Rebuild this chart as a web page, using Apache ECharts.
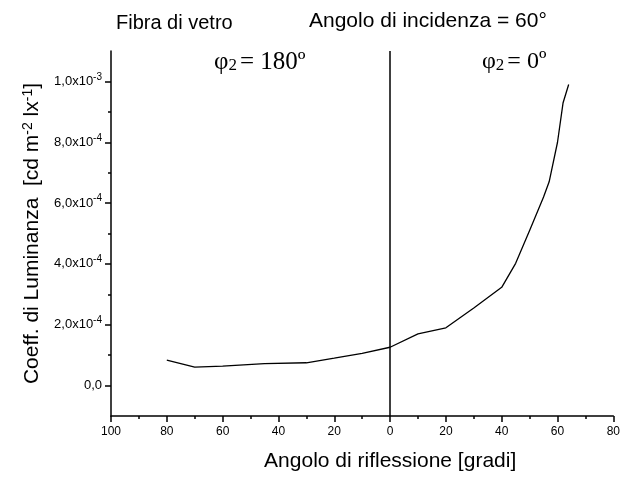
<!DOCTYPE html>
<html>
<head>
<meta charset="utf-8">
<script src="https://cdn.jsdelivr.net/npm/echarts@6/dist/echarts.min.js"></script>
<style>
  html, body { margin: 0; padding: 0; background: #fff; }
  #chart { width: 623px; height: 477px; }
</style>
</head>
<body>
<div id="chart"></div>
<script>
// angolo di riflessione (negativo = lato phi2 = 180)
const angles = [-80, -70, -60, -45, -30, -20, -10, 0, 10, 20, 30, 40, 45, 50, 55, 57, 60, 62, 64];
// coefficiente di luminanza
const luminance = [8.4e-5, 6.1e-5, 6.4e-5, 7.2e-5, 7.5e-5, 9.0e-5, 1.06e-4, 1.26e-4, 1.70e-4, 1.90e-4,
  2.55e-4, 3.23e-4, 4.02e-4, 5.1e-4, 6.2e-4, 6.7e-4, 8.0e-4, 9.3e-4, 9.9e-4];
const yMajor = [0, 2e-4, 4e-4, 6e-4, 8e-4, 1e-3];
const yMinor = [1e-4, 3e-4, 5e-4, 7e-4, 9e-4];
const yTickLabels = [["0,0", ""], ["2,0x10", "-4"], ["4,0x10", "-4"], ["6,0x10", "-4"], ["8,0x10", "-4"], ["1,0x10", "-3"]];

const chart = echarts.init(document.getElementById("chart"));
const sans = "Liberation Sans";
const serif = "Liberation Serif";

const option = {
  animation: false,
  backgroundColor: "#fff",
  grid: { left: 111, right: 9, top: 51, bottom: 58 },
  graphic: [
    { type: "text", left: 116, top: 13, style: { text: "Fibra di vetro", font: "20px " + sans, fill: "#000" } },
    { type: "text", left: 309, top: 11, style: { text: "Angolo di incidenza = 60°", font: "21px " + sans, fill: "#000" } },
    {
      type: "text", left: 214, top: 50,
      style: {
        text: "{a|φ}{b|2}{a|= 180º}",
        rich: {
          a: { fontFamily: serif, fontSize: 25, fill: "#000" },
          b: { fontFamily: serif, fontSize: 17, fill: "#000", padding: [7, 3, 0, 0] }
        }
      }
    },
    {
      type: "text", left: 482, top: 50,
      style: {
        text: "{a|φ}{b|2}{a|= 0º}",
        rich: {
          a: { fontFamily: serif, fontSize: 24, fill: "#000" },
          b: { fontFamily: serif, fontSize: 17, fill: "#000", padding: [7, 3, 0, 0] }
        }
      }
    }
  ],
  xAxis: {
    type: "value",
    min: -100,
    max: 80,
    interval: 20,
    name: "Angolo di riflessione [gradi]",
    nameLocation: "middle",
    nameGap: 35,
    nameTextStyle: { fontFamily: sans, fontSize: 21, color: "#000", padding: [0, 0, 0, 56] },
    axisLine: { onZero: false, lineStyle: { color: "#000", width: 1.5 } },
    axisTick: { inside: false, length: 6, lineStyle: { color: "#000", width: 1.5 } },
    minorTick: { show: true, splitNumber: 2, length: 3, lineStyle: { color: "#000", width: 1.5 } },
    axisLabel: {
      margin: 10,
      fontFamily: sans,
      fontSize: 12,
      color: "#000",
      formatter: (v) => String(Math.abs(v))
    },
    splitLine: { show: false }
  },
  yAxis: [
    {
      type: "value",
      min: -1e-4,
      max: 1.1e-3,
      name: "{t|Coeff. di Luminanza  [cd m}{s|-2}{t| lx}{s|-1}{t|]}",
      nameLocation: "middle",
      nameGap: 66,
      nameTextStyle: {
        rich: {
          t: { fontFamily: sans, fontSize: 21, color: "#000" },
          s: { fontFamily: sans, fontSize: 14, color: "#000", padding: [0, 0, 10, 0] }
        }
      },
      axisLine: { show: true, onZero: false, lineStyle: { color: "#000", width: 1.5 } },
      axisTick: { show: true, length: 6, customValues: yMajor, lineStyle: { color: "#000", width: 1.5 } },
      axisLabel: {
        margin: 9,
        customValues: yMajor,
        formatter: (v) => {
          const lab = yTickLabels[Math.round(v / 2e-4)];
          return lab[1] ? "{m|" + lab[0] + "}{e|" + lab[1] + "}" : "{m|" + lab[0] + "}";
        },
        rich: {
          m: { fontFamily: sans, fontSize: 13, color: "#000" },
          e: { fontFamily: sans, fontSize: 10, color: "#000", padding: [0, 0, 9, 0] }
        }
      },
      splitLine: { show: false }
    },
    {
      type: "value",
      min: -1e-4,
      max: 1.1e-3,
      position: "left",
      axisLine: { show: false, onZero: false },
      axisTick: { show: true, length: 3, customValues: yMinor, lineStyle: { color: "#000", width: 1.5 } },
      axisLabel: { show: false },
      splitLine: { show: false }
    }
  ],
  series: [
    {
      type: "line",
      data: angles.map((a, i) => [a, luminance[i]]),
      showSymbol: false,
      smooth: false,
      lineStyle: { color: "#000", width: 1.3 },
      markLine: {
        silent: true,
        symbol: "none",
        label: { show: false },
        lineStyle: { color: "#000", width: 1.5, type: "solid" },
        data: [{ xAxis: 0 }]
      }
    }
  ]
};

chart.setOption(option);
window.addEventListener("resize", () => {
  chart.resize();
});
</script>
</body>
</html>
